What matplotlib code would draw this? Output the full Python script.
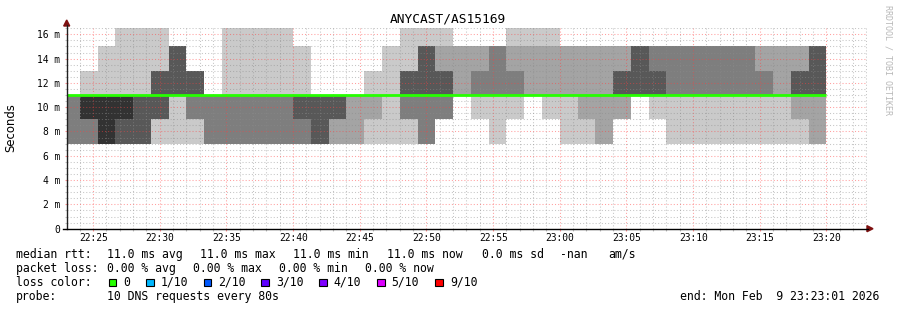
import matplotlib
matplotlib.use("Agg")
import matplotlib.pyplot as plt
import matplotlib.dates as mdates
from matplotlib.patches import Rectangle, Polygon
from matplotlib.lines import Line2D
from matplotlib.ticker import MultipleLocator, FuncFormatter
import numpy as np
import pandas as pd

W, H = 897, 310
MONO = "DejaVu Sans Mono"

# 10 DNS pings (ms) per 80 s step, first step starts 22:22:40
pings_ms = [
    [7, 7, 7, 11, 11, 11, 11, 11, 11, 11],
    [7, 7, 7, 9, 9, 11, 11, 11, 11, 13],
    [7, 7, 7, 7, 7, 11, 11, 11, 11, 15],
    [7, 7, 7, 7, 9, 11, 11, 11, 11, 17],
    [7, 7, 7, 7, 11, 11, 11, 11, 11, 17],
    [7, 9, 9, 9, 11, 11, 13, 13, 13, 17],
    [7, 11, 11, 11, 11, 11, 15, 15, 15, 15],
    [7, 9, 9, 11, 11, 11, 13, 13, 13, 13],
    [7, 7, 7, 11, 11, 11, 11, 11, 11, 11],
    [7, 7, 7, 11, 11, 11, 11, 11, 11, 17],
    [7, 7, 7, 11, 11, 11, 11, 11, 11, 17],
    [7, 7, 7, 11, 11, 11, 11, 11, 11, 17],
    [7, 7, 7, 11, 11, 11, 11, 11, 11, 17],
    [7, 7, 7, 9, 11, 11, 11, 11, 11, 15],
    [7, 7, 7, 7, 11, 11, 11, 11, 11, 11],
    [7, 7, 9, 9, 11, 11, 11, 11, 11, 11],
    [7, 7, 11, 11, 11, 11, 11, 11, 11, 11],
    [7, 9, 11, 11, 11, 11, 11, 11, 11, 13],
    [7, 11, 11, 11, 11, 11, 11, 11, 11, 15],
    [7, 9, 9, 11, 11, 11, 13, 13, 13, 17],
    [7, 7, 7, 11, 11, 11, 15, 15, 15, 17],
    [9, 9, 9, 11, 11, 11, 13, 13, 15, 17],
    [11, 11, 11, 11, 11, 11, 11, 11, 15, 15],
    [9, 11, 11, 11, 11, 11, 11, 13, 15, 15],
    [7, 11, 11, 11, 11, 11, 11, 15, 15, 15],
    [9, 11, 11, 11, 11, 11, 11, 13, 15, 17],
    [11, 11, 11, 11, 11, 11, 11, 11, 15, 17],
    [9, 11, 11, 11, 11, 11, 11, 11, 15, 17],
    [7, 11, 11, 11, 11, 11, 11, 11, 15, 15],
    [7, 9, 11, 11, 11, 11, 11, 11, 15, 15],
    [7, 7, 11, 11, 11, 11, 11, 11, 15, 15],
    [9, 9, 11, 11, 11, 11, 13, 13, 15, 15],
    [11, 11, 11, 11, 11, 11, 15, 15, 15, 15],
    [9, 11, 11, 11, 11, 11, 13, 15, 15, 15],
    [7, 11, 11, 11, 11, 11, 11, 15, 15, 15],
    [7, 11, 11, 11, 11, 11, 11, 15, 15, 15],
    [7, 11, 11, 11, 11, 11, 11, 15, 15, 15],
    [7, 11, 11, 11, 11, 11, 11, 15, 15, 15],
    [7, 11, 11, 11, 11, 11, 11, 15, 15, 15],
    [7, 11, 11, 11, 11, 11, 11, 13, 15, 15],
    [7, 11, 11, 11, 11, 11, 11, 11, 15, 15],
    [7, 9, 11, 11, 11, 11, 13, 13, 15, 15],
    [7, 7, 11, 11, 11, 11, 15, 15, 15, 15],
]
median_ms = [11.0, 11.0, 11.0, 11.0, 11.0, 11.0, 11.0, 11.0, 11.0, 11.0,
             11.0, 11.0, 11.0, 11.0, 11.0, 11.0, 11.0, 11.0, 11.0, 11.0,
             11.0, 11.0, 11.0, 11.0, 11.0, 11.0, 11.0, 11.0, 11.0, 11.0,
             11.0, 11.0, 11.0, 11.0, 11.0, 11.0, 11.0, 11.0, 11.0, 11.0,
             11.0, 11.0, 11.0]

smoke_colors = ["#cacaca", "#a4a4a4", "#7e7e7e", "#585858", "#323232"]
loss_labels = ["0", "1/10", "2/10", "3/10", "4/10", "5/10", "9/10"]
loss_colors = ["#26ff00", "#00b8ff", "#0059ff", "#5e00ff", "#7e00ff", "#dd00ff", "#ff0000"]

title = "ANYCAST/AS15169"
t_start = pd.Timestamp("2026-02-09 22:23:01")
t_end = pd.Timestamp("2026-02-09 23:23:01")


def px(x, y):
    return x / W, 1 - y / H


edges = pd.date_range("2026-02-09 22:22:40", periods=len(pings_ms) + 1, freq="80s")
x_edges = mdates.date2num(edges.to_pydatetime())
p = np.sort(np.array(pings_ms, dtype=float), axis=1)

fig = plt.figure(figsize=(W / 100, H / 100), dpi=100)
fig.patch.set_facecolor("white")
ax = fig.add_axes([66.7 / W, (H - 228.7) / H, 800 / W, 200.5 / H])

# smoke: pair i spans sorted ping i .. ping 11-i
for i in range(5):
    ax.stairs(p[:, 9 - i], x_edges, baseline=p[:, i], fill=True,
              color=smoke_colors[i], lw=0, antialiased=False, zorder=1)
ax.stairs(median_ms, x_edges, baseline=None, color=loss_colors[0], lw=2, zorder=4)

ax.set_xlim(mdates.date2num(t_start.to_pydatetime()), mdates.date2num(t_end.to_pydatetime()))
ax.set_ylim(0, 16.5)

ax.xaxis.set_major_locator(mdates.MinuteLocator(byminute=range(0, 60, 5)))
ax.xaxis.set_minor_locator(mdates.MinuteLocator())
ax.xaxis.set_major_formatter(mdates.DateFormatter("%H:%M"))
ax.yaxis.set_major_locator(MultipleLocator(2))
ax.yaxis.set_minor_locator(MultipleLocator(0.5))
ax.yaxis.set_major_formatter(FuncFormatter(lambda v, pos: "0" if v == 0 else "%d m" % v))

ax.set_axisbelow(False)
ax.grid(which="minor", color="#8c8c8c", alpha=0.5, ls=(0, (1, 2)), lw=0.75)
ax.grid(which="major", color="#ff4040", alpha=0.5, ls=(0, (1, 2)), lw=0.75)

ax.tick_params(which="both", direction="out", length=1.6, width=0.8)
ax.tick_params(which="major", color="#ff9090")
ax.tick_params(which="minor", color="#c0c0c0")
ax.tick_params(axis="x", pad=1.3, labelsize=6.9)
ax.tick_params(axis="y", pad=3.2, labelsize=6.9)
for lab in ax.get_xticklabels() + ax.get_yticklabels():
    lab.set_family(MONO)
for s in ax.spines.values():
    s.set_visible(False)
ax.set_facecolor("white")

# axes with arrows
fig.add_artist(Line2D([66.7 / W, 66.7 / W], [1 - 229 / H, 1 - 25 / H], color="#202020", lw=1))
fig.add_artist(Line2D([62.7 / W, 868 / W], [1 - 228.7 / H, 1 - 228.7 / H], color="black", lw=1))
fig.add_artist(Polygon([px(63.7, 26), px(69.7, 26), px(66.7, 20)], closed=True,
                       color="#7f1010", transform=fig.transFigure))
fig.add_artist(Polygon([px(867, 225.7), px(867, 231.7), px(873, 228.7)], closed=True,
                       color="#7f1010", transform=fig.transFigure))

# texts
fig.text(*px(448, 19.5), title, ha="center", va="center", family=MONO, fontsize=9.3)
fig.text(*px(11, 127.5), "Seconds", rotation=90, ha="center", va="center",
         family="DejaVu Sans", fontsize=8.4)
fig.text(*px(887.5, 60), "RRDTOOL / TOBI OETIKER", rotation=270, ha="center", va="center",
         family=MONO, fontsize=6, color="#b8b8b8")

fs = 8.3
rows = [
    (254.3, [(16, "median rtt:"), (107.3, "11.0 ms avg"), (200.3, "11.0 ms max"),
             (293.3, "11.0 ms min"), (386.7, "11.0 ms now"), (481.5, "0.0 ms sd"),
             (560, "-nan"), (608.3, "am/s")]),
    (268.3, [(16, "packet loss:"), (107.3, "0.00 % avg"), (193.3, "0.00 % max"),
             (279.3, "0.00 % min"), (365.3, "0.00 % now")]),
    (282.3, [(16, "loss color:")]),
    (296.3, [(16, "probe:"), (107.3, "10 DNS requests every 80s")]),
]
for y, items in rows:
    for x, s in items:
        fig.text(*px(x, y), s, ha="left", va="center", family=MONO, fontsize=fs)

box_x = [108.7, 146, 203.7, 261.3, 319, 377, 435.3]
for bx, lab, col in zip(box_x, loss_labels, loss_colors):
    x0, y0 = px(bx, 286.3)
    fig.add_artist(Rectangle((x0, y0), 7.5 / W, 7.5 / H, transform=fig.transFigure,
                             facecolor=col, edgecolor="black", lw=0.8))
    fig.text(*px(bx + 14.5, 282.3), lab, ha="left", va="center", family=MONO, fontsize=fs)

fig.text(*px(879.5, 296.3), "end: Mon Feb  9 23:23:01 2026", ha="right", va="center",
         family=MONO, fontsize=fs)

fig.savefig("out.png", dpi=100, facecolor="white")
